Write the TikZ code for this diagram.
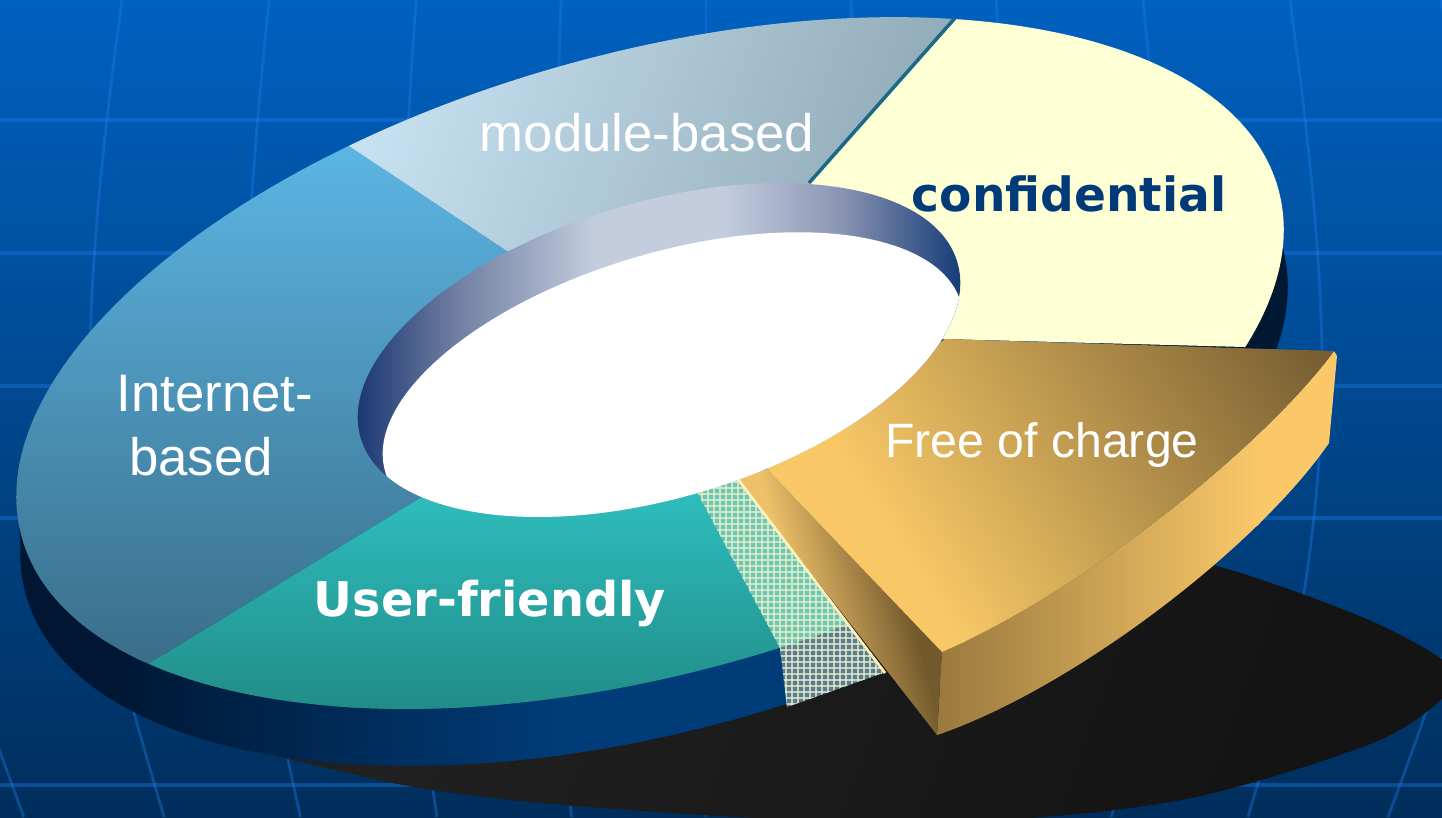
\documentclass[tikz,border=0pt]{standalone}
\usepackage{fontspec}
\newfontfamily\arialf{Liberation Sans}
\newfontfamily\verdf{DejaVu Sans}
\definecolor{bgtop}{RGB}{0,97,192}
\definecolor{bgmid}{RGB}{0,75,152}
\definecolor{bgbot}{RGB}{0,46,92}
\definecolor{gridc}{RGB}{30,125,235}
\definecolor{shadA}{RGB}{32,32,32}
\definecolor{shadB}{RGB}{20,20,20}
\definecolor{sideA}{RGB}{0,22,50}
\definecolor{sideB}{RGB}{0,60,120}
\definecolor{sideR}{RGB}{0,24,50}
\definecolor{inetA}{RGB}{92,182,228}
\definecolor{inetB}{RGB}{58,110,138}
\definecolor{modA}{RGB}{205,232,248}
\definecolor{modB}{RGB}{138,163,176}
\definecolor{modline}{RGB}{25,105,135}
\definecolor{confc}{RGB}{255,255,213}
\definecolor{confT}{RGB}{0,58,120}
\definecolor{userA}{RGB}{46,190,190}
\definecolor{userB}{RGB}{33,140,135}
\definecolor{hatchL}{RGB}{105,198,186}
\definecolor{hatchD}{RGB}{90,124,150}
\definecolor{hatchG}{RGB}{235,240,195}
\definecolor{goldL}{RGB}{248,200,102}
\definecolor{goldD}{RGB}{118,94,50}
\definecolor{goldSA}{RGB}{155,122,62}
\definecolor{goldSB}{RGB}{250,200,105}
\definecolor{goldFL}{RGB}{238,192,106}
\definecolor{goldFD}{RGB}{115,90,45}
\definecolor{hilite}{RGB}{250,240,185}
\definecolor{wallDa}{RGB}{22,50,112}
\definecolor{wallMa}{RGB}{110,125,160}
\definecolor{wallL}{RGB}{195,205,222}
\definecolor{wallMb}{RGB}{140,150,180}
\definecolor{wallDb}{RGB}{15,55,115}
\pgfdeclarehorizontalshading{wallshade}{100bp}{color(0bp)=(wallDa); color(26bp)=(wallDa); color(34bp)=(wallMa); color(45bp)=(wallL); color(55bp)=(wallL); color(64bp)=(wallMb); color(74bp)=(wallDb); color(100bp)=(wallDb)}
% linear gradient inside clip: #1 clips, #2 #3 centre, #4 angle, #5 half length, #6 start colour, #7 end colour
\newcommand\lgrad[7]{%
  \begin{scope}#1%
    \begin{scope}[transform canvas={shift={(#2,#3)},rotate=#4}]%
      \fill[#6] (-3000,-3000) rectangle ({-(#5)+4},3000);%
      \fill[#7] ({(#5)-4},-3000) rectangle (3000,3000);%
      \shade[left color=#6,right color=#7] (-#5,-3000) rectangle (#5,3000);%
    \end{scope}%
  \end{scope}}
\newcommand\pathEA{(650,363) ellipse [x radius=652, y radius=310]}
\newcommand\pathEB{(654,420) ellipse [x radius=652, y radius=310]}
\newcommand\pathEC{(659,350) ellipse [x radius=311, y radius=148]}
\newcommand\pathED{(673,387) ellipse [x radius=300, y radius=135]}
\begin{document}
\begin{tikzpicture}[x=0.01cm,y=-0.01cm,
  rotA/.style={rotate around={15.5:(650,363)}},
  rotB/.style={rotate around={15.5:(654,420)}},
  rotC/.style={rotate around={16.4:(659,350)}},
  rotD/.style={rotate around={16.4:(673,387)}},
  gridline/.style={draw=gridc, opacity=0.38},
  lbl/.style={inner sep=0pt, anchor=base, text=white}]
\useasboundingbox (0,0) rectangle (1442,817);
\clip (0,0) rectangle (1442,817);
% background
\shade[top color=bgtop, middle color=bgmid, bottom color=bgbot] (0,0) rectangle (1442,817);
\foreach \y in {120,253,386,518,785}
  \draw[gridline, line width=1.1pt] (0,\y) -- (1442,\y);
\foreach \s in {-735,-584,-437,-290,-145,0,145,290,437,584,735}
  \draw[gridline, line width=0.8pt] plot[smooth] coordinates {({706+(\s)},0) ({706+(\s)*1.022},100) ({706+(\s)*1.040},200) ({706+(\s)*1.052},300) ({706+(\s)*1.055},400) ({706+(\s)*1.044},500) ({706+(\s)*1.022},600) ({706+(\s)*0.985},700) ({706+(\s)*0.928},817)};
% floor shadow
\lgrad{\clip plot[smooth cycle] coordinates {(272,750) (310,764) (420,788) (552,804) (782,819) (1012,819) (1196,797) (1380,740) (1455,685) (1440,658) (1362,617) (1224,568) (1100,545) (800,560) (500,640) (330,712)};}{850}{700}{-20}{400}{shadA}{shadB}
% outer side of the ring
\lgrad{\clip (-10,-10) rectangle (788,900); \clip[rotB] \pathEB;}{330}{700}{0}{230}{sideA}{sideB}
\fill[sideA] (16,490) -- (22,560) -- (70,560) -- (70,490) -- cycle;
\begin{scope}
  \clip (1100,-10) rectangle (1500,360);
  \fill[sideR, rotB] \pathEB;
\end{scope}
% top faces
\lgrad{\clip (659,352) -- (21,-72) -- (-400,-72) -- (-400,980) -- (-369,980) -- cycle; \clip[rotA] \pathEA;}{200}{400}{-90}{260}{inetA}{inetB}
\lgrad{\clip (659,352) -- (21,-72) -- (-100,-500) -- (1500,-500) -- (1271,-334) -- cycle; \clip[rotA] \pathEA;}{650}{130}{-20}{330}{modA}{modB}
\begin{scope}
  \clip (659,352) -- (1271,-334) -- (1700,-500) -- (1700,356) -- (1245,347) -- (945,339) -- cycle;
  \fill[confc, rotA] \pathEA;
\end{scope}
\lgrad{\clip (659,352) -- (-369,980) -- (-369,1200) -- (900,1200) -- (896,866) -- (697,492) -- (660,422) -- cycle; \clip[rotA] \pathEA;}{450}{600}{-90}{110}{userA}{userB}
\draw[modline, line width=1pt] (809,183) -- (955,18);
% exposed cut (hatched)
\begin{scope}
  \clip (697,492) -- (737,478) -- (883,673) -- (787,707) -- (780,648) -- cycle;
  \fill[hatchD] (600,400) rectangle (950,750);
  \fill[hatchL, rotA] \pathEA;
  \foreach \i in {0,...,45}
    \draw[hatchG, opacity=0.75, line width=0.3pt] ({690+6*\i},440) -- ({690+6*\i},720);
  \foreach \j in {0,...,48}
    \draw[hatchG, opacity=0.75, line width=0.3pt] (680,{440+6*\j}) -- (960,{440+6*\j});
\end{scope}
% exploded slice
\lgrad{\clip (1334,351) .. controls (1264,446) and (1085,590) .. (942,652) -- (937,735) .. controls (1070,690) and (1255,550) .. (1329,443) -- (1337,356) -- cycle;}{1100}{550}{0}{160}{goldSA}{goldSB}
\lgrad{\clip (737,478) -- (767,469) -- (942,652) -- (937,735) -- cycle;}{850}{600}{15}{55}{goldFL}{goldFD}
\lgrad{\clip (767,469) -- (945,339) -- (1334,351) .. controls (1264,446) and (1085,590) .. (942,652) -- cycle;}{1130}{480}{33}{230}{goldL}{goldD}
\draw[hilite, line width=0.8pt] (737,478) -- (885,673);
% hole
\shade[shading=wallshade, rotC] \pathEC;
\begin{scope}
  \clip[rotC] \pathEC;
  \fill[white, rotD] \pathED;
\end{scope}
% labels
\node[lbl, font=\arialf\fontsize{15}{18}\selectfont] (mod) at (647,151) {module-based};
\node[lbl, font=\arialf\fontsize{15}{18}\selectfont] (inetA) at (215,411) {Internet-};
\node[lbl, font=\arialf\fontsize{15}{18}\selectfont] (inetB) at (201,475) {based};
\node[lbl, text=confT, font=\verdf\bfseries\fontsize{13.4}{16}\selectfont] (conf) at (1069,211) {confidential};
\node[lbl, font=\verdf\bfseries\fontsize{13.6}{16}\selectfont] (user) at (490,616) {User-friendly};
\node[lbl, font=\arialf\fontsize{13.7}{16}\selectfont] (free) at (1042,457) {Free of charge};
\end{tikzpicture}
\end{document}
